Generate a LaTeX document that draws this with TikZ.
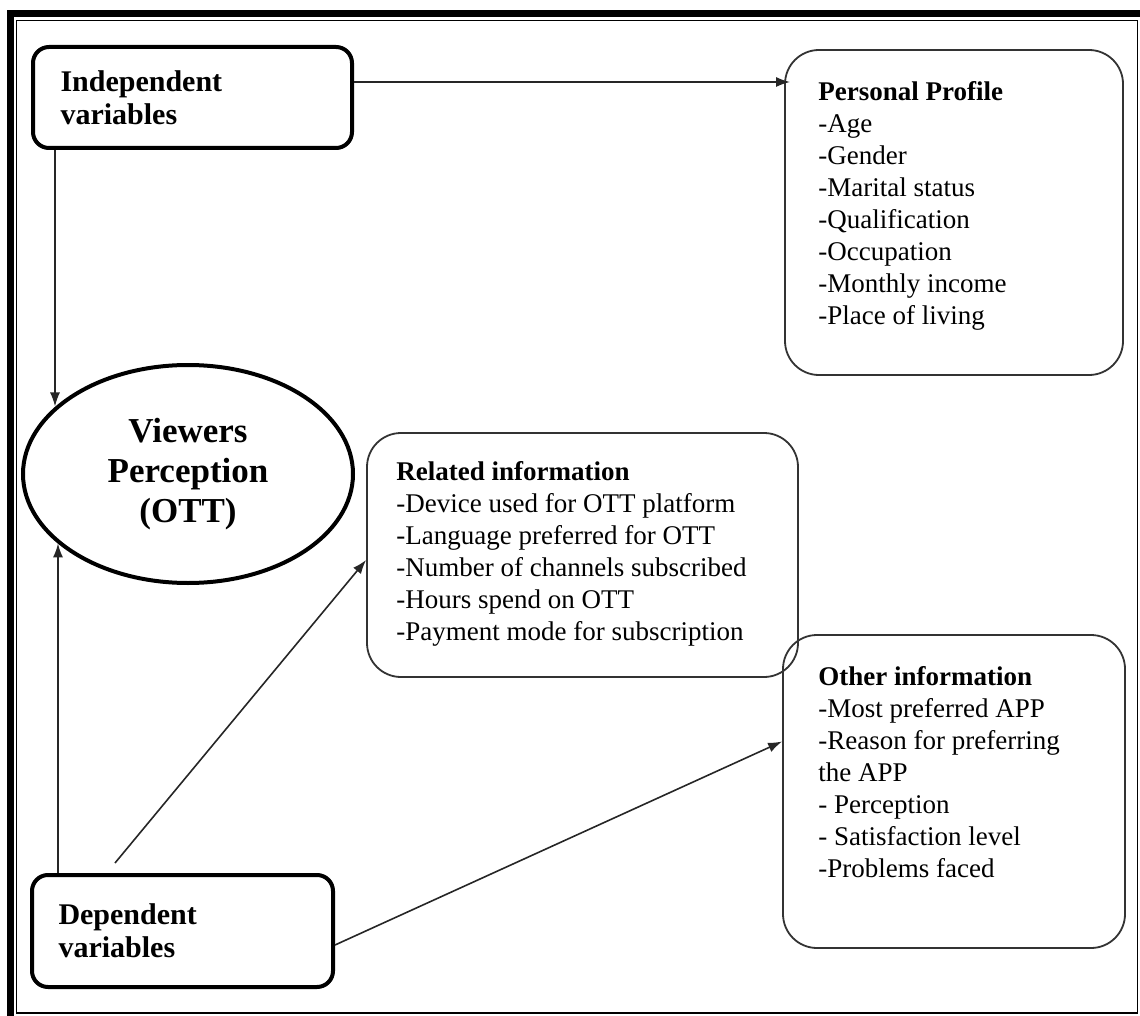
\documentclass[tikz,border=0pt]{standalone}
\usepackage{fontspec}
\setmainfont{Liberation Serif}
\usetikzlibrary{shapes.geometric,arrows.meta}

\begin{document}
\begin{tikzpicture}[x=0.5pt,y=-0.5pt,
  varbox/.style={draw,line width=2pt,rounded corners=8pt,align=left,inner xsep=13pt,font=\fontsize{15}{16.5}\selectfont\bfseries},
  infobox/.style={draw=black!80,line width=0.9pt,rounded corners=17pt},
  listtext/.style={align=left,inner sep=0pt,anchor=north west,font=\fontsize{13.5}{16}\selectfont},
  conn/.style={draw=black!85,line width=0.8pt,-{Latex[length=7pt,width=5pt]}}]
\useasboundingbox (0,0) rectangle (1140,1016);
% frame
\fill (7,10) rectangle (1140,17);
\fill (7,10) rectangle (14,1016);
\draw[line width=0.8pt] (16.5,20.5) rectangle (1137.5,1013);
% variables and perception
\node[varbox,minimum width=159.5pt,minimum height=50.5pt,text width=132pt] (indep) at (192.5,97.5) {Independent\\variables};
\node[varbox,minimum width=150.5pt,minimum height=56pt,text width=124pt] (dep) at (182.5,931) {Dependent\\variables};
\node[ellipse,draw,line width=2pt,minimum width=165pt,minimum height=109pt,inner sep=0pt,align=center,
  font=\fontsize{17.5}{20}\selectfont\bfseries] (view) at (188,474) {Viewers\\Perception\\(OTT)};
% information boxes
\node[infobox,minimum width=169pt,minimum height=162.5pt] (profile) at (954,212.5) {};
\node[listtext] (profiletext) at (818,81) {\textbf{Personal Profile}\\-Age\\-Gender\\-Marital status\\-Qualification\\-Occupation\\-Monthly income\\-Place of living};
\node[infobox,minimum width=215.5pt,minimum height=122pt] (related) at (582.5,555) {};
\node[listtext] (relatedtext) at (396,461) {\textbf{Related information}\\-Device used for OTT platform\\-Language preferred for OTT\\-Number of channels subscribed\\-Hours spend on OTT\\-Payment mode for subscription};
\node[infobox,minimum width=171pt,minimum height=156.5pt] (other) at (954,791.5) {};
\node[listtext] (othertext) at (818,666) {\textbf{Other information}\\-Most preferred APP\\-Reason for preferring\\the APP\\- Perception\\- Satisfaction level\\-Problems faced};
% connectors
\draw[conn] ([yshift=7.75pt]indep.east) -- ([yshift=7.75pt,xshift=3pt]indep.east -| profile.west);
\draw[conn] ([xshift=12pt]indep.south west) -- ([xshift=12pt]indep.south west |- view.153);
\draw[conn] ([xshift=14pt]dep.north west) -- ([xshift=14pt]dep.north west |- view.208);
\draw[conn] ([shift={(42.5pt,5pt)}]dep.north west) -- ([yshift=-2.5pt]related.west);
\draw[conn] ([yshift=-7pt]dep.east) -- ([yshift=25pt]other.west);
\end{tikzpicture}
\end{document}
